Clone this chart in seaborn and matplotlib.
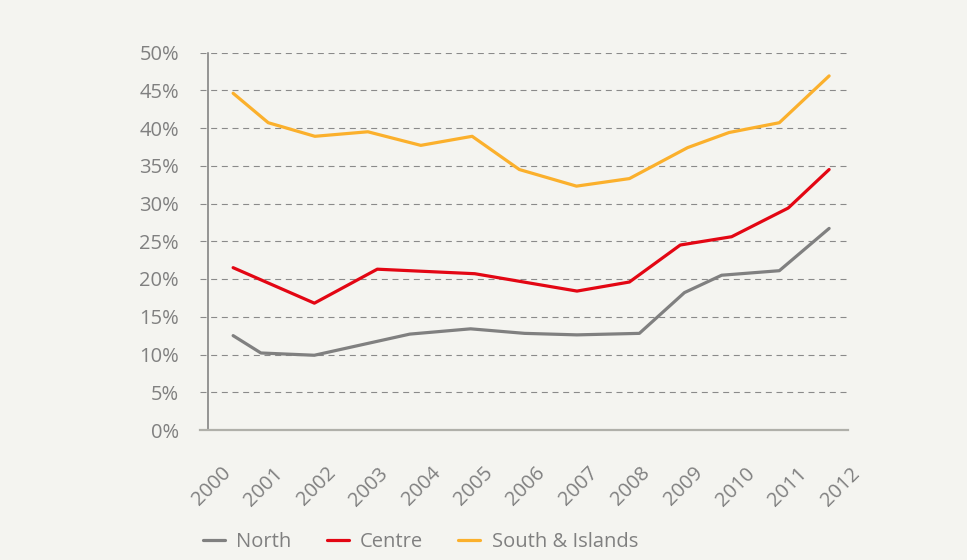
import matplotlib
matplotlib.use("Agg")
import matplotlib.pyplot as plt
import matplotlib.transforms as mtransforms
import seaborn as sns
import pandas as pd

# ---- data (x in years, y in %) ----
south_x = [2000.27, 2000.94, 2001.83, 2002.84, 2003.85, 2004.83, 2005.73,
           2006.82, 2007.83, 2008.94, 2009.73, 2010.69, 2011.64]
south_y = [44.6, 40.7, 38.9, 39.5, 37.7, 38.9, 34.5, 32.3, 33.3, 37.4, 39.4, 40.7, 46.9]

centre_x = [2000.27, 2001.82, 2003.02, 2004.88, 2006.83, 2007.83, 2008.80,
            2009.78, 2010.86, 2011.64]
centre_y = [21.5, 16.8, 21.3, 20.7, 18.4, 19.6, 24.5, 25.6, 29.4, 34.5]

north_x = [2000.27, 2000.80, 2001.82, 2003.64, 2004.80, 2005.83, 2006.83,
           2008.02, 2008.88, 2009.59, 2010.69, 2011.64]
north_y = [12.5, 10.2, 9.9, 12.7, 13.4, 12.8, 12.6, 12.8, 18.2, 20.5, 21.1, 26.7]

series_names = ["North", "Centre", "South & Islands"]
series_colors = ["#808080", "#e30613", "#fbb02c"]
year_ticks = list(range(2000, 2013))
y_ticks = list(range(0, 55, 5))

df = pd.concat([
    pd.DataFrame({"year": north_x, "value": north_y, "region": "North"}),
    pd.DataFrame({"year": centre_x, "value": centre_y, "region": "Centre"}),
    pd.DataFrame({"year": south_x, "value": south_y, "region": "South & Islands"}),
], ignore_index=True)

BG = "#f4f4f0"
TXT = "#808080"
FS = 14.5

sns.set_theme(style="white")
plt.rcParams["font.family"] = ["Open Sans", "DejaVu Sans"]

fig = plt.figure(figsize=(9.67, 5.6), dpi=100, facecolor=BG)
W, H = 967, 560
ax = fig.add_axes([200 / W, 1 - 430 / H, (848 - 200) / W, (430 - 52.5) / H])
ax.set_facecolor(BG)

sns.lineplot(data=df, x="year", y="value", hue="region", hue_order=series_names,
             palette=dict(zip(series_names, series_colors)), estimator=None,
             sort=False, linewidth=2.3, ax=ax, legend=False)

def px2year(px):
    return 2000 + (px - 219) / 52.5

ax.set_xlim(px2year(200), px2year(848))
ax.set_ylim(0, 50)

ax.set_yticks(y_ticks)
ax.set_yticklabels([f"{v}%" for v in y_ticks])
ax.set_xticks(year_ticks)
ax.set_xticklabels([str(y) for y in year_ticks], rotation=45, ha="right")
ax.set_xlabel("")
ax.set_ylabel("")

ax.yaxis.grid(True, color="#8a8a8a", linestyle=(0, (5.4, 4.2)), linewidth=0.8)
ax.xaxis.grid(False)
ax.set_axisbelow(True)

for s in ["top", "right"]:
    ax.spines[s].set_visible(False)
ax.spines["left"].set_position(("data", px2year(208)))
ax.spines["left"].set_color("#7a7a7a")
ax.spines["left"].set_linewidth(1.1)
ax.spines["bottom"].set_color("#b0b0aa")
ax.spines["bottom"].set_linewidth(1.6)

ax.tick_params(axis="y", length=5.8, width=0.8, color="#8a8a8a", direction="out",
               pad=15, labelsize=FS, labelcolor=TXT)
ax.tick_params(axis="x", length=0, pad=24, labelsize=FS, labelcolor=TXT)

offset = mtransforms.ScaledTranslation(16 / 100, 0, fig.dpi_scale_trans)
for lab in ax.get_xticklabels():
    lab.set_transform(lab.get_transform() + offset)

handles = [plt.Line2D([], [], color=c, linewidth=2.3) for c in series_colors]
leg = fig.legend(handles, series_names, loc="center left",
                 bbox_to_anchor=(203 / W, 18 / H), ncol=3, frameon=False,
                 fontsize=FS, handlelength=1.1, handletextpad=0.55,
                 columnspacing=1.75, borderpad=0, borderaxespad=0)
for t in leg.get_texts():
    t.set_color(TXT)

fig.savefig("out.png", dpi=100, facecolor=BG)
